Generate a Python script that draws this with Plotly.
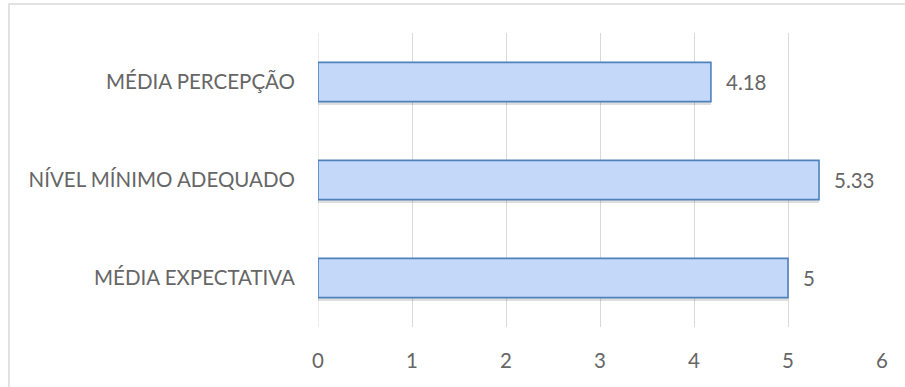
import plotly.graph_objects as go

# Survey averages (listed bottom to top as drawn)
categories = ["MÉDIA EXPECTATIVA", "NÍVEL MÍNIMO ADEQUADO", "MÉDIA PERCEPÇÃO"]
values = [5, 5.33, 4.18]
x_ticks = [0, 1, 2, 3, 4, 5, 6]

W, H = 905, 387
L, R, T, B = 318, 23, 33, 60
FONT = "Lato, Open Sans, sans-serif"
FS = 20.5
TXT = "#666666"
BAR_W = 0.4

fig = go.Figure()

# soft drop shadow under each bar
fig.add_trace(go.Bar(
    y=categories,
    x=values,
    orientation="h",
    width=BAR_W,
    offset=-BAR_W / 2 - 0.035,
    marker=dict(color="rgba(0,0,0,0.13)", line=dict(width=0)),
    hoverinfo="skip",
))

fig.add_trace(go.Bar(
    y=categories,
    x=values,
    orientation="h",
    width=BAR_W,
    offset=-BAR_W / 2,
    marker=dict(color="#c4d8fa", line=dict(color="#4f81bd", width=1.6)),
    hoverinfo="skip",
))

# value labels to the right of each bar
for c, v in zip(categories, values):
    fig.add_annotation(
        x=v, y=c, xref="x", yref="y",
        text=f"{v:g}", showarrow=False,
        xanchor="left", xshift=13,
        font=dict(family=FONT, size=FS, color=TXT),
    )

# light frame around the chart area
pw, ph = W - L - R, H - T - B
fig.add_shape(
    type="rect", xref="paper", yref="paper",
    x0=(9 - L) / pw, x1=(W + 20 - L) / pw,
    y0=-(H + 20 - (H - B)) / ph, y1=(H - B - 4) / ph,
    line=dict(color="#d9d9d9", width=1.5), layer="below",
)

fig.update_layout(
    width=W, height=H,
    margin=dict(l=L, r=R, t=T, b=B),
    paper_bgcolor="white", plot_bgcolor="white",
    showlegend=False,
    barmode="overlay",
    font=dict(family=FONT, size=FS, color=TXT),
    xaxis=dict(
        range=[0, 6], tickvals=x_ticks, showgrid=True, gridcolor="#d9d9d9",
        gridwidth=1, zeroline=False, showline=False, ticks="",
        ticklabelstandoff=19, fixedrange=True,
    ),
    yaxis=dict(
        categoryorder="array", categoryarray=categories,
        showgrid=False, zeroline=False, showline=False, ticks="",
        ticklabelstandoff=22, fixedrange=True,
    ),
)
fig.add_vline(x=0, line=dict(color="#d9d9d9", width=1), layer="below")

fig.write_html("out.html")
